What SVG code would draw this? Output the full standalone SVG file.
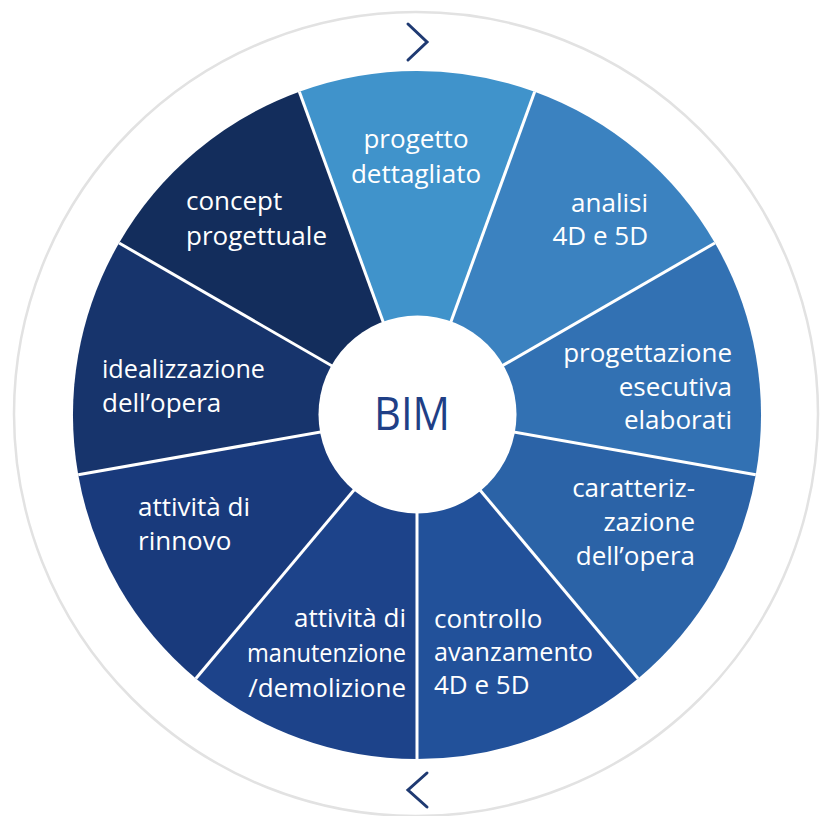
<svg xmlns="http://www.w3.org/2000/svg" width="823" height="816" viewBox="0 0 823 816">
<style>
.lbl{font-family:"Open Sans","Noto Sans","Liberation Sans",sans-serif;font-size:26px;fill:#ffffff}
.end{text-anchor:end}
.mid{text-anchor:middle}
.div{stroke:#ffffff;stroke-width:3;fill:none}
.chev{stroke:#1f3a72;stroke-width:3;fill:none;stroke-linecap:round;stroke-linejoin:miter}
</style>
<rect width="823" height="816" fill="#ffffff"/>
<circle cx="416" cy="414" r="402" fill="none" stroke="#e2e2e2" stroke-width="2.5"/>
<g id="arrows">
<polyline class="chev" points="408,24 427,42 408,60"/>
<polyline class="chev" points="427,773 408,790 427,807"/>
</g>
<g id="seg-progetto"><path d="M417,415 L299.34,91.75 A344,344 0 0 1 534.66,91.75 Z" fill="#4093cb"/>
<text class="lbl mid" x="416" y="148">progetto</text><text class="lbl mid" x="416" y="183">dettagliato</text></g>
<g id="seg-analisi"><path d="M417,415 L534.66,91.75 A344,344 0 0 1 714.91,243 Z" fill="#3b82c0"/>
<text class="lbl end" x="648" y="212">analisi</text><text class="lbl end" x="648" y="245">4D e 5D</text></g>
<g id="seg-progettazione"><path d="M417,415 L714.91,243 A344,344 0 0 1 755.77,474.74 Z" fill="#3271b3"/>
<text class="lbl end" x="732" y="362">progettazione</text><text class="lbl end" x="732" y="396">esecutiva</text><text class="lbl end" x="732" y="429">elaborati</text></g>
<g id="seg-caratterizzazione"><path d="M417,415 L755.77,474.74 A344,344 0 0 1 638.12,678.52 Z" fill="#2b63a7"/>
<text class="lbl end" x="695" y="497">caratteriz-</text><text class="lbl end" x="695" y="531">zazione</text><text class="lbl end" x="695" y="565">dell’opera</text></g>
<g id="seg-controllo"><path d="M417,415 L638.12,678.52 A344,344 0 0 1 417,759 Z" fill="#22519a"/>
<text class="lbl" x="434" y="628">controllo</text><text class="lbl" x="434" y="661" textLength="159" lengthAdjust="spacingAndGlyphs">avanzamento</text><text class="lbl" x="434" y="694">4D e 5D</text></g>
<g id="seg-manutenzione"><path d="M417,415 L417,759 A344,344 0 0 1 195.88,678.52 Z" fill="#1d438a"/>
<text class="lbl end" x="406" y="627">attività di</text><text class="lbl" x="247" y="662" textLength="159" lengthAdjust="spacingAndGlyphs">manutenzione</text><text class="lbl end" x="406" y="697">/demolizione</text></g>
<g id="seg-rinnovo"><path d="M417,415 L195.88,678.52 A344,344 0 0 1 78.23,474.74 Z" fill="#193a7c"/>
<text class="lbl" x="138" y="516">attività di</text><text class="lbl" x="138" y="550">rinnovo</text></g>
<g id="seg-idealizzazione"><path d="M417,415 L78.23,474.74 A344,344 0 0 1 119.09,243 Z" fill="#17346c"/>
<text class="lbl" x="102" y="378" textLength="163" lengthAdjust="spacingAndGlyphs">idealizzazione</text><text class="lbl" x="102" y="412">dell’opera</text></g>
<g id="seg-concept"><path d="M417,415 L119.09,243 A344,344 0 0 1 299.34,91.75 Z" fill="#132d5c"/>
<text class="lbl" x="186" y="210">concept</text><text class="lbl" x="186" y="245">progettuale</text></g>
<g id="dividers">
<line class="div" x1="417" y1="415" x2="534.66" y2="91.75"/>
<line class="div" x1="417" y1="415" x2="714.91" y2="243"/>
<line class="div" x1="417" y1="415" x2="755.77" y2="474.74"/>
<line class="div" x1="417" y1="415" x2="638.12" y2="678.52"/>
<line class="div" x1="417" y1="415" x2="417" y2="759"/>
<line class="div" x1="417" y1="415" x2="195.88" y2="678.52"/>
<line class="div" x1="417" y1="415" x2="78.23" y2="474.74"/>
<line class="div" x1="417" y1="415" x2="119.09" y2="243"/>
<line class="div" x1="417" y1="415" x2="299.34" y2="91.75"/>
</g>
<g id="center">
<circle cx="417.5" cy="414.5" r="99" fill="#ffffff"/>
<text x="374" y="430" textLength="76" lengthAdjust="spacingAndGlyphs" style="font-family:'Open Sans','Noto Sans','Liberation Sans',sans-serif;font-size:46px;fill:#1f3f86">BIM</text>
</g>
</svg>
